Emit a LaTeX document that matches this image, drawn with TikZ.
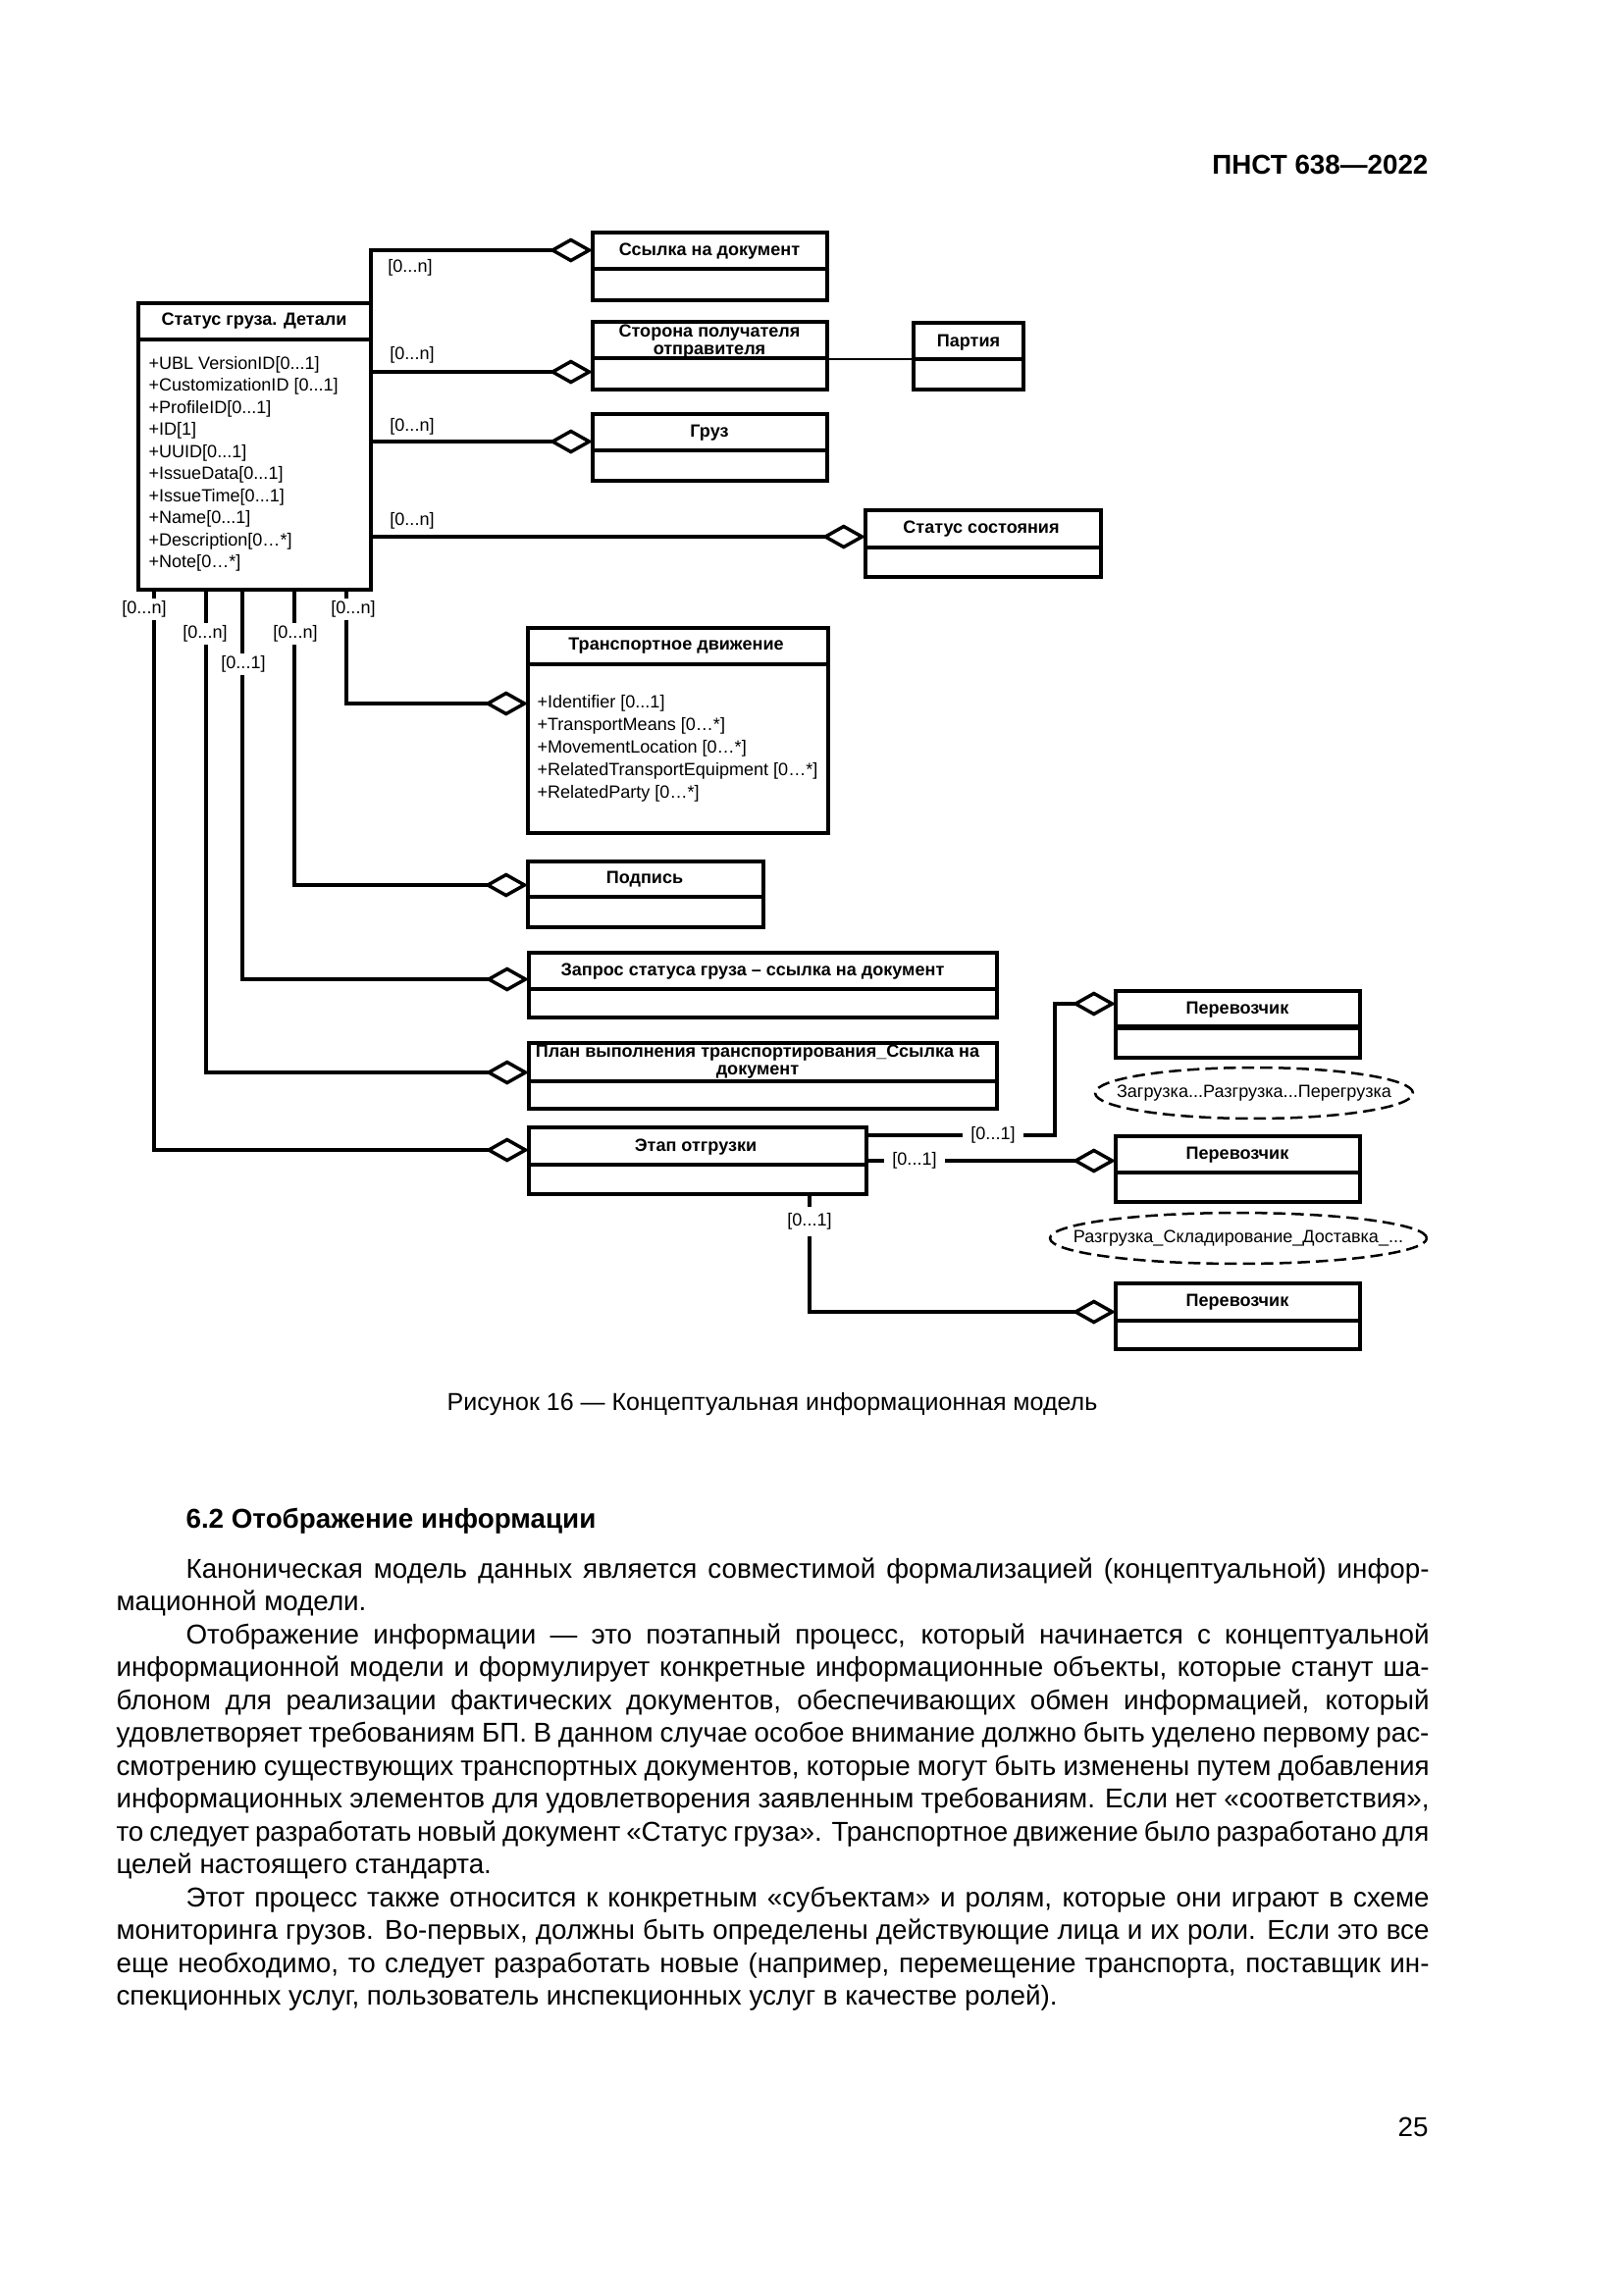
\documentclass[tikz,border=0pt]{standalone}
\usepackage{fontspec}
\setmainfont{Liberation Sans}
\usetikzlibrary{arrows.meta,fit,shapes.geometric}
\newcommand\umlbox[6]{%
  \node[cls, fit={(#2,#3) (#4,#5)}] (#1) {};
  \draw[divl] (#2,#6) -- (#4,#6);}
\newcommand\bodyf{\fontsize{10}{12}\selectfont}
\begin{document}
\begin{tikzpicture}[x=0.36pt,y=-0.36pt,
 every node/.style={inner sep=0pt},
 cls/.style={draw, line width=1.25pt, inner sep=0pt, outer sep=0pt, rectangle},
 divl/.style={line width=1.25pt},
 ttl/.style={font=\bfseries\fontsize{6.5}{6.2}\selectfont, align=center},
 attr/.style={font=\fontsize{6.5}{7.8}\selectfont, anchor=west},
 lbl/.style={font=\fontsize{6.5}{7.8}\selectfont, fill=white, inner sep=1pt},
 lblg/.style={lbl, inner xsep=3pt},
 agg/.style={line width=1.25pt, -{Diamond[open,length=16pt,width=9pt]}},
 thinln/.style={line width=0.75pt},
 ell/.style={ellipse, draw, line width=0.9pt, dash pattern=on 4.5pt off 2.2pt, inner sep=0pt},
 ellt/.style={font=\fontsize{6.5}{7.8}\selectfont},
 jl/.style={anchor=base west, font=\bodyf},
]
\fill[white] (0,0) rectangle (1654,2339);
\useasboundingbox (0,0) rectangle (1654,2339);

% header
\node[anchor=base east, font=\bfseries\fontsize{10}{12}\selectfont] (hdr) at (1456,177) {ПНСТ 638—2022};

% main class
\umlbox{main}{141}{309}{378}{601}{346}
\node[ttl] (tmain) at (259,327) {Статус груза. Детали};
\node[attr] (at1) at (151,372) {+UBL VersionID[0...1]};
\node[attr] (at2) at (151,394) {+CustomizationID [0...1]};
\node[attr] (at3) at (151,417) {+ProfileID[0...1]};
\node[attr] (at4) at (151,439) {+ID[1]};
\node[attr] (at5) at (151,462) {+UUID[0...1]};
\node[attr] (at6) at (151,484) {+IssueData[0...1]};
\node[attr] (at7) at (151,507) {+IssueTime[0...1]};
\node[attr] (at8) at (151,529) {+Name[0...1]};
\node[attr] (at9) at (151,552) {+Description[0…*]};
\node[attr] (at10) at (151,574) {+Note[0…*]};

% right-side classes
\umlbox{ssylka}{604}{237}{843}{306}{274}
\node[ttl] (tssylka) at (723,256) {Ссылка на документ};
\umlbox{storona}{604}{328}{843}{397}{365}
\node[ttl] (tstorona) at (723,348) {Сторона получателя\\отправителя};
\umlbox{gruz}{604}{422}{843}{490}{459}
\node[ttl] (tgruz) at (723,441) {Груз};
\umlbox{partiya}{931}{329}{1043}{397}{366}
\node[ttl] (tpartiya) at (987,349) {Партия};
\umlbox{status}{882}{520}{1122}{588}{558}
\node[ttl] (tstatus) at (1000,539) {Статус состояния};

% lower classes
\umlbox{transp}{538}{640}{844}{849}{677}
\node[ttl] (ttransp) at (689,658) {Транспортное движение};
\node[attr] (tr1) at (547,717) {+Identifier [0...1]};
\node[attr] (tr2) at (547,740) {+TransportMeans [0…*]};
\node[attr] (tr3) at (547,763) {+MovementLocation [0…*]};
\node[attr] (tr4) at (547,786) {+RelatedTransportEquipment [0…*]};
\node[attr] (tr5) at (547,809) {+RelatedParty [0…*]};
\umlbox{podpis}{538}{878}{778}{945}{914}
\node[ttl] (tpodpis) at (657,896) {Подпись};
\umlbox{zapros}{539}{971}{1016}{1037}{1008}
\node[ttl] (tzapros) at (767,990) {Запрос статуса груза – ссылка на документ};
\umlbox{plan}{539}{1063}{1016}{1130}{1102}
\node[ttl] (tplan) at (772,1082) {План выполнения транспортирования\_Ссылка на\\документ};
\umlbox{etap}{539}{1149}{883}{1217}{1187}
\node[ttl] (tetap) at (709,1169) {Этап отгрузки};

\umlbox{per1}{1137}{1010}{1386}{1078}{1047}
\draw[line width=2.2pt] (1137,1047) -- (1386,1047);
\node[ttl] (tper1) at (1261,1029) {Перевозчик};
\umlbox{per2}{1137}{1158}{1386}{1225}{1195}
\node[ttl] (tper2) at (1261,1177) {Перевозчик};
\umlbox{per3}{1137}{1308}{1386}{1375}{1346}
\node[ttl] (tper3) at (1261,1327) {Перевозчик};

\node[ell, minimum width=116.6pt, minimum height=18.7pt] (el1) at (1278,1114) {};
\node[ellt] (tel1) at (el1) {Загрузка...Разгрузка...Перегрузка};
\node[ell, minimum width=138.2pt, minimum height=18.7pt] (el2) at (1262,1262) {};
\node[ellt] (tel2) at (el2) {Разгрузка\_Складирование\_Доставка\_...};

% connectors from main class (right side)
\coordinate (a1) at (604,255);
\coordinate (a2) at (604,379);
\coordinate (a3) at (604,450);
\coordinate (a4) at (882,547);
\draw[agg] (main.north east) |- (a1);
\draw[agg] (main.east |- a2) -- (a2);
\draw[agg] (main.east |- a3) -- (a3);
\draw[agg] (main.east |- a4) -- (a4);
\node[lbl] (l1) at (418,273) {[0...n]};
\node[lbl] (l2) at (420,362) {[0...n]};
\node[lbl] (l3) at (420,435) {[0...n]};
\node[lbl] (l4) at (420,531) {[0...n]};

\coordinate (pp) at (900,366);
\draw[thinln] (storona.east |- pp) -- (partiya.west |- pp);

% connectors from main class (bottom)
\coordinate (v1) at (157,601);
\coordinate (v2) at (210,601);
\coordinate (v3) at (247,601);
\coordinate (v4) at (300,601);
\coordinate (v5) at (353,601);
\coordinate (b1) at (539,1172);
\coordinate (b2) at (539,1093);
\coordinate (b3) at (539,998);
\coordinate (b4) at (538,902);
\coordinate (b5) at (538,717);
\draw[agg] (v1) |- (b1);
\draw[agg] (v2) |- (b2);
\draw[agg] (v3) |- (b3);
\draw[agg] (v4) |- (b4);
\draw[agg] (v5) |- (b5);
\node[lbl] (lv1) at (147,621) {[0...n]};
\node[lbl] (lv2) at (209,646) {[0...n]};
\node[lbl] (lv3) at (248,677) {[0...1]};
\node[lbl] (lv4) at (301,646) {[0...n]};
\node[lbl] (lv5) at (360,621) {[0...n]};

% connectors from Этап отгрузки
\coordinate (e1) at (883,1157);
\coordinate (e1k) at (1075,1157);
\coordinate (c1) at (1137,1023);
\draw[agg] (e1) -- (e1k) |- (c1);
\node[lblg] (le1) at (1012,1157) {[0...1]};
\coordinate (e2) at (883,1183);
\coordinate (c2) at (1137,1183);
\draw[agg] (e2) -- (c2);
\node[lblg] (le2) at (932,1183) {[0...1]};
\coordinate (e3) at (825,1217);
\coordinate (c3) at (1137,1337);
\draw[agg] (e3) |- (c3);
\node[lbl, inner ysep=2.5pt] (le3) at (825,1245) {[0...1]};

% caption
\node[anchor=base, font=\fontsize{9}{11}\selectfont] (cap) at (787,1437) {Рисунок 16 — Концептуальная информационная модель};

% body text
\node[anchor=base west, font=\bfseries\fontsize{10}{12}\selectfont] (h62) at (189,1557) {6.2 Отображение информации};
\node[jl] (b01) at (189,1608) {\makebox[456.1pt][s]{Каноническая модель данных является совместимой формализацией (концептуальной) инфор-}};
\node[jl] (b02) at (118,1641.5) {мационной модели.};
\node[jl] (b03) at (189,1675) {\makebox[456.1pt][s]{Отображение информации — это поэтапный процесс, который начинается с концептуальной}};
\node[jl] (b04) at (118,1708.5) {\makebox[481.7pt][s]{информационной модели и формулирует конкретные информационные объекты, которые станут ша-}};
\node[jl] (b05) at (118,1742) {\makebox[481.7pt][s]{блоном для реализации фактических документов, обеспечивающих обмен информацией, который}};
\node[jl] (b06) at (118,1775.5) {\makebox[481.7pt][s]{удовлетворяет требованиям БП. В данном случае особое внимание должно быть уделено первому рас-}};
\node[jl] (b07) at (118,1809) {\makebox[481.7pt][s]{смотрению существующих транспортных документов, которые могут быть изменены путем добавления}};
\node[jl] (b08) at (118,1842.5) {\makebox[481.7pt][s]{информационных элементов для удовлетворения заявленным требованиям. Если нет «соответствия»,}};
\node[jl] (b09) at (118,1876) {\makebox[481.7pt][s]{то следует разработать новый документ «Статус груза». Транспортное движение было разработано для}};
\node[jl] (b10) at (118,1909.5) {целей настоящего стандарта.};
\node[jl] (b11) at (189,1943) {\makebox[456.1pt][s]{Этот процесс также относится к конкретным «субъектам» и ролям, которые они играют в схеме}};
\node[jl] (b12) at (118,1976.5) {\makebox[481.7pt][s]{мониторинга грузов. Во-первых, должны быть определены действующие лица и их роли. Если это все}};
\node[jl] (b13) at (118,2010) {\makebox[481.7pt][s]{еще необходимо, то следует разработать новые (например, перемещение транспорта, поставщик ин-}};
\node[jl] (b14) at (118,2043.5) {спекционных услуг, пользователь инспекционных услуг в качестве ролей).};

% page number
\node[anchor=base east, font=\fontsize{10}{12}\selectfont] (pgn) at (1456,2177) {25};
\end{tikzpicture}
\end{document}
